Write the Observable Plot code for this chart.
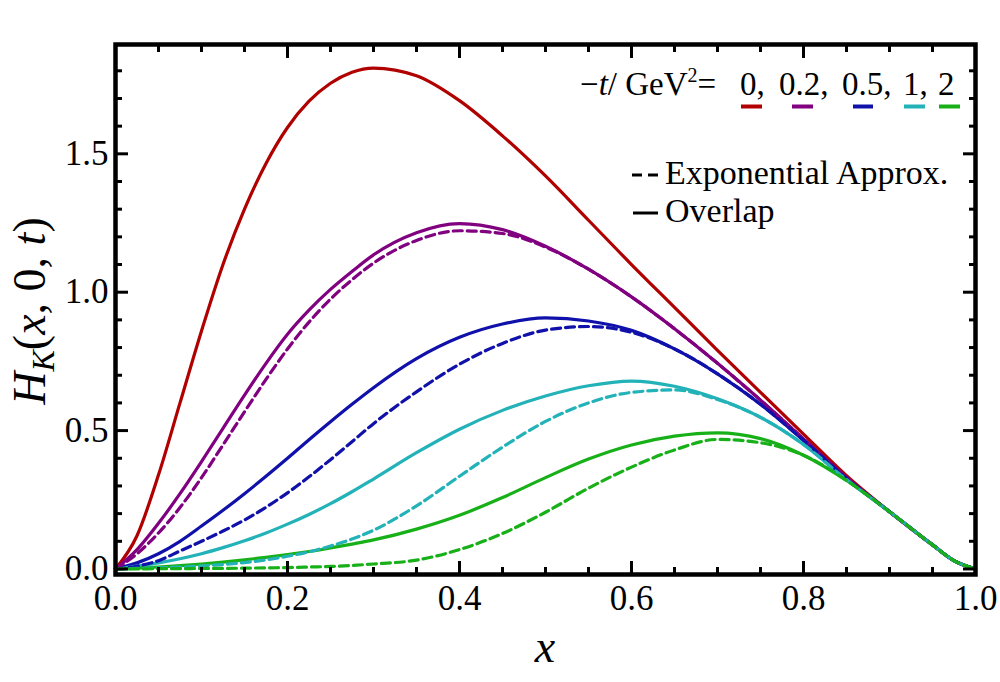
<!DOCTYPE html>
<html>
<head>
<meta charset="utf-8">
<script src="https://cdn.jsdelivr.net/npm/d3@7"></script>
<script src="https://cdn.jsdelivr.net/npm/@observablehq/plot@0.6"></script>
<style>
  html, body { margin: 0; padding: 0; background: #fff; }
  #chart { width: 1000px; height: 682px; }
</style>
</head>
<body>
<div id="chart"></div>
<script>
// ---- data ----
const xs = [0, 0.025, 0.05, 0.075, 0.1, 0.125, 0.15, 0.175, 0.2, 0.225, 0.25, 0.275, 0.3, 0.35, 0.4, 0.45, 0.5, 0.55, 0.6, 0.65, 0.7, 0.75, 0.8, 0.85, 0.9, 0.95, 0.975, 1.0];

const tLabels = ["0", "0.2", "0.5", "1", "2"];
const tColors = ["#b00000", "#800080", "#1010aa", "#22b2b8", "#18b018"];

// Overlap (solid)
const overlapT0  = [0, 0.12, 0.34, 0.60, 0.86, 1.10, 1.30, 1.465, 1.595, 1.69, 1.755, 1.795, 1.81, 1.782, 1.692, 1.565, 1.42, 1.26, 1.10, 0.945, 0.79, 0.638, 0.487, 0.337, 0.207, 0.087, 0.03, 0];
const overlapT02 = [0, 0.07, 0.165, 0.272, 0.388, 0.508, 0.628, 0.743, 0.848, 0.935, 1.01, 1.075, 1.135, 1.215, 1.248, 1.226, 1.166, 1.083, 0.983, 0.868, 0.743, 0.61, 0.47, 0.33, 0.207, 0.087, 0.03, 0];
const overlapT05 = [0, 0.022, 0.055, 0.10, 0.155, 0.212, 0.272, 0.335, 0.40, 0.467, 0.532, 0.595, 0.655, 0.76, 0.837, 0.885, 0.907, 0.896, 0.862, 0.795, 0.705, 0.595, 0.465, 0.327, 0.207, 0.087, 0.03, 0];
const overlapT1  = [0, 0.01, 0.022, 0.037, 0.055, 0.077, 0.102, 0.13, 0.162, 0.197, 0.236, 0.279, 0.325, 0.42, 0.505, 0.573, 0.625, 0.662, 0.679, 0.66, 0.615, 0.548, 0.45, 0.323, 0.207, 0.087, 0.03, 0];
const overlapT2  = [0, 0.003, 0.007, 0.012, 0.018, 0.025, 0.033, 0.042, 0.052, 0.063, 0.076, 0.09, 0.105, 0.144, 0.194, 0.258, 0.33, 0.397, 0.448, 0.48, 0.492, 0.471, 0.411, 0.32, 0.207, 0.087, 0.03, 0];

// Exponential approximation (dashed)
const expT02 = [0, 0.055, 0.13, 0.222, 0.33, 0.448, 0.568, 0.685, 0.795, 0.892, 0.975, 1.045, 1.105, 1.187, 1.222, 1.212, 1.163, 1.083, 0.983, 0.868, 0.743, 0.61, 0.47, 0.33, 0.207, 0.087, 0.03, 0];
const expT05 = [0, 0.01, 0.03, 0.065, 0.10, 0.137, 0.177, 0.223, 0.275, 0.333, 0.395, 0.46, 0.525, 0.64, 0.74, 0.815, 0.863, 0.876, 0.855, 0.795, 0.705, 0.595, 0.465, 0.327, 0.207, 0.087, 0.03, 0];
const expT1  = [0, 0.002, 0.004, 0.007, 0.011, 0.016, 0.023, 0.033, 0.046, 0.062, 0.083, 0.108, 0.14, 0.228, 0.335, 0.44, 0.533, 0.60, 0.638, 0.647, 0.612, 0.548, 0.45, 0.323, 0.207, 0.087, 0.03, 0];
const expT2  = [0, 0, 0.001, 0.001, 0.002, 0.002, 0.003, 0.004, 0.005, 0.007, 0.009, 0.013, 0.018, 0.032, 0.07, 0.128, 0.205, 0.292, 0.368, 0.43, 0.468, 0.456, 0.411, 0.32, 0.207, 0.087, 0.03, 0];

// ticks
const xMajor = [0, 0.2, 0.4, 0.6, 0.8, 1.0];
const xMinor = [0.05, 0.1, 0.15, 0.25, 0.3, 0.35, 0.45, 0.5, 0.55, 0.65, 0.7, 0.75, 0.85, 0.9, 0.95];
const yMajor = [0, 0.5, 1.0, 1.5];
const yMinor = [0.1, 0.2, 0.3, 0.4, 0.6, 0.7, 0.8, 0.9, 1.1, 1.2, 1.3, 1.4, 1.6, 1.7, 1.8];

// ---- tidy rows ----
function rows(values, t, id) {
  return values.map((y, i) => ({x: xs[i], y, t, id}));
}
const solidRows = [
  ...rows(overlapT0, "0", "o0"),
  ...rows(overlapT02, "0.2", "o02"),
  ...rows(overlapT05, "0.5", "o05"),
  ...rows(overlapT1, "1", "o1"),
  ...rows(overlapT2, "2", "o2")
];
const dashedRows = [
  ...rows(expT02, "0.2", "e02"),
  ...rows(expT05, "0.5", "e05"),
  ...rows(expT1, "1", "e1"),
  ...rows(expT2, "2", "e2")
];

const FONT = "'Liberation Serif', 'DejaVu Serif', serif";
const fmt = d3.format(".1f");

const svg = Plot.plot({
  width: 1000,
  height: 682,
  marginLeft: 115,
  marginRight: 25,
  marginTop: 44,
  marginBottom: 108,
  style: {fontFamily: FONT, background: "white", color: "black"},
  x: {domain: [0, 1]},
  y: {domain: [-0.02, 1.895]},
  color: {domain: tLabels, range: tColors},
  marks: [
    Plot.line(solidRows, {x: "x", y: "y", z: "id", stroke: "t", strokeWidth: 3.2, curve: "monotone-x"}),
    Plot.line(dashedRows, {x: "x", y: "y", z: "id", stroke: "t", strokeWidth: 3.2, strokeDasharray: "9,5", curve: "monotone-x"}),
    // bottom axis
    Plot.axisX(xMajor, {anchor: "bottom", tickSize: -13, tickPadding: 24, tickFormat: fmt, fontSize: 35, strokeWidth: 3, label: null}),
    Plot.axisX(xMinor, {anchor: "bottom", tickSize: -7, tickFormat: () => "", strokeWidth: 3, label: null}),
    // top axis (ticks only)
    Plot.axisX(xMajor, {anchor: "top", tickSize: -13, tickFormat: () => "", strokeWidth: 3, label: null}),
    Plot.axisX(xMinor, {anchor: "top", tickSize: -7, tickFormat: () => "", strokeWidth: 3, label: null}),
    // left axis
    Plot.axisY(yMajor, {anchor: "left", tickSize: -13, tickPadding: 20, tickFormat: fmt, fontSize: 35, strokeWidth: 3, label: null}),
    Plot.axisY(yMinor, {anchor: "left", tickSize: -7, tickFormat: () => "", strokeWidth: 3, label: null}),
    // right axis (ticks only)
    Plot.axisY(yMajor, {anchor: "right", tickSize: -13, tickFormat: () => "", strokeWidth: 3, label: null}),
    Plot.axisY(yMinor, {anchor: "right", tickSize: -7, tickFormat: () => "", strokeWidth: 3, label: null}),
    Plot.frame({stroke: "black", strokeWidth: 4.5})
  ]
});

const s = d3.select(svg);

// axis titles
const yl = s.append("text")
  .attr("transform", "translate(45,311) rotate(-90)")
  .attr("text-anchor", "middle")
  .style("font-family", FONT)
  .style("font-size", "46px")
  .attr("fill", "black");
yl.append("tspan").attr("font-style", "italic").text("H");
yl.append("tspan").attr("font-style", "italic").attr("font-size", "32px").attr("dy", "9").text("K");
yl.append("tspan").attr("dy", "-9").text("(");
yl.append("tspan").attr("font-style", "italic").text("x");
yl.append("tspan").text(", 0, ");
yl.append("tspan").attr("font-style", "italic").text("t");
yl.append("tspan").text(")");

s.append("text")
  .attr("x", 545).attr("y", 662)
  .attr("text-anchor", "middle")
  .style("font-family", FONT)
  .style("font-size", "46px")
  .attr("font-style", "italic")
  .attr("fill", "black")
  .text("x");

// legend: −t/GeV² = 0, 0.2, 0.5, 1, 2
const lg = s.append("g").style("font-family", FONT).attr("fill", "black").attr("text-anchor", "start");
const head = lg.append("text").attr("x", 580).attr("y", 95).attr("text-anchor", "start").style("font-size", "33px");
head.append("tspan").text("\u2212");
head.append("tspan").attr("font-style", "italic").text("t");
head.append("tspan").text("/ GeV");
head.append("tspan").attr("font-size", "20px").attr("dy", "-13").text("2");
head.append("tspan").attr("dy", "13").text("=");

const numX = [740, 779, 842, 903, 938];
const numText = ["0,", "0.2,", "0.5,", "1,", "2"];
const swatch = [[741, 762], [792, 813], [853, 873], [904, 925], [939, 960]];
tLabels.forEach((t, i) => {
  lg.append("text").attr("x", numX[i]).attr("y", 95).attr("text-anchor", "start").style("font-size", "33px").text(numText[i]);
  lg.append("line")
    .attr("x1", swatch[i][0]).attr("x2", swatch[i][1])
    .attr("y1", 106.5).attr("y2", 106.5)
    .attr("stroke", tColors[i]).attr("stroke-width", 4);
});

// style legend
lg.append("line").attr("x1", 632).attr("x2", 642).attr("y1", 175).attr("y2", 175).attr("stroke", "black").attr("stroke-width", 3);
lg.append("line").attr("x1", 648).attr("x2", 658).attr("y1", 175).attr("y2", 175).attr("stroke", "black").attr("stroke-width", 3);
lg.append("text").attr("x", 665).attr("y", 184).attr("text-anchor", "start").style("font-size", "34px").text("Exponential Approx.");
lg.append("line").attr("x1", 633).attr("x2", 658).attr("y1", 213).attr("y2", 213).attr("stroke", "black").attr("stroke-width", 3);
lg.append("text").attr("x", 665).attr("y", 222).attr("text-anchor", "start").style("font-size", "34px").text("Overlap");

document.getElementById("chart").appendChild(svg);
</script>
</body>
</html>
